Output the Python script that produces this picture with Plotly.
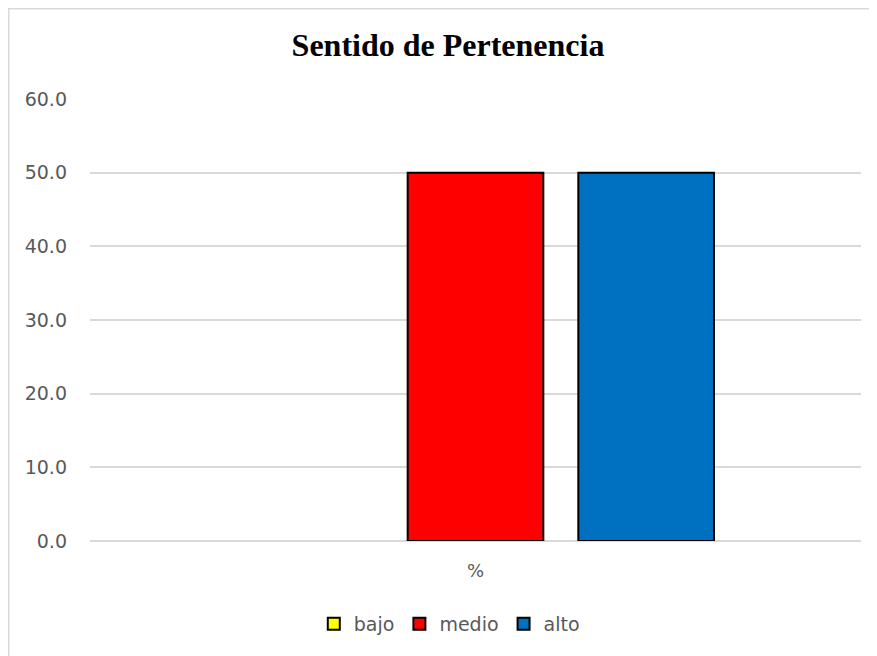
import plotly.graph_objects as go

categories = ["%"]
series_names = ["bajo", "medio", "alto"]
series_values = [[0.0], [50.0], [50.0]]
series_colors = ["#FFFF00", "#FF0000", "#0070C0"]
y_ticks = [0, 10, 20, 30, 40, 50, 60]

W, H = 877, 656
L, T = 82, 91
PW, PH = 771, 442
R = W - L - PW
B = H - T - PH

fig = go.Figure()
for name, vals, col in zip(series_names, series_values, series_colors):
    has_zero = any(v == 0 for v in vals)
    if has_zero:
        # legend entry with outlined square (no drawn bar)
        fig.add_trace(go.Bar(
            x=categories, y=[None] * len(categories), name=name, offsetgroup=name,
            legendgroup=name, showlegend=True, hoverinfo="skip",
            marker=dict(color=col, line=dict(color="#000000", width=2)),
        ))
        fig.add_trace(go.Bar(
            x=categories, y=vals, name=name, offsetgroup=name,
            legendgroup=name, showlegend=False,
            marker=dict(color=col, line=dict(color="#000000", width=0)),
        ))
    else:
        fig.add_trace(go.Bar(
            x=categories, y=vals, name=name, offsetgroup=name, legendgroup=name,
            marker=dict(color=col, line=dict(color="#000000", width=2)),
        ))

fig.update_layout(
    width=W, height=H,
    margin=dict(l=L, r=R, t=T, b=B, pad=0),
    paper_bgcolor="white", plot_bgcolor="white",
    barmode="group", bargap=0.336, bargroupgap=0.205,
    title=dict(text="<b>Sentido de Pertenencia</b>", x=440 / W, xanchor="center",
               y=1 - 37 / H, yanchor="middle",
               font=dict(family="Liberation Serif", size=32, color="#000000")),
    font=dict(family="DejaVu Sans", size=19, color="#595959"),
    xaxis=dict(showgrid=False, showline=False, ticks="", tickfont=dict(size=18, color="#595959"),
               ticklabelstandoff=17),
    yaxis=dict(range=[0, 60], tickvals=y_ticks, tickformat=".1f",
               showgrid=True, gridcolor="#D9D9D9", gridwidth=1.5,
               zeroline=True, zerolinecolor="#D9D9D9", zerolinewidth=1.5,
               showline=False, ticks="", ticklabelstandoff=22,
               tickfont=dict(size=19, color="#595959")),
    legend=dict(orientation="h", x=0.466, xanchor="center", y=(PH - (616 - T)) / PH, yanchor="middle",
                font=dict(size=19, color="#595959"), itemwidth=30, traceorder="normal"),
    showlegend=True,
    shapes=[dict(type="rect", xref="paper", yref="paper",
                 x0=(0.75 - L) / PW, x1=(W + 20 - L) / PW,
                 y0=-(B + 20) / PH, y1=(T - 0.75) / PH + 1,
                 line=dict(color="#D9D9D9", width=1.5), fillcolor="rgba(0,0,0,0)", layer="below")],
)

fig.write_html("out.html")
